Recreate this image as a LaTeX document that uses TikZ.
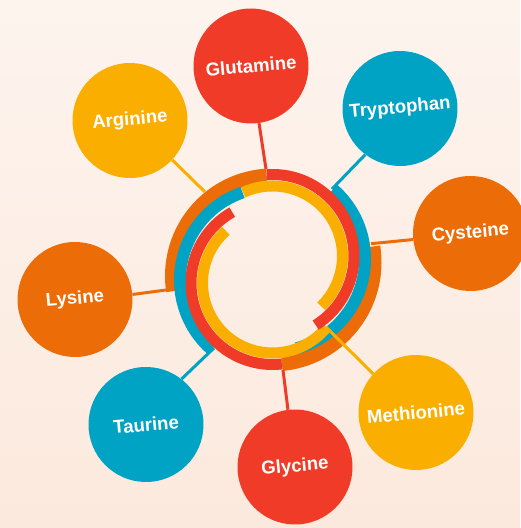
\documentclass[tikz,border=0pt]{standalone}
\usepackage{fontspec}
\setmainfont{Liberation Sans}
\usepackage{xcolor}
\definecolor{aared}{RGB}{239,59,39}
\definecolor{aaorange}{RGB}{236,108,8}
\definecolor{aayellow}{RGB}{250,174,0}
\definecolor{aablue}{RGB}{0,163,196}
\definecolor{bgtop}{RGB}{253,244,238}
\definecolor{bgbot}{RGB}{252,233,221}
\usetikzlibrary{calc}

\begin{document}
\begin{tikzpicture}[x=1pt,y=1pt,
  acid/.style={circle,minimum size=115pt,inner sep=0pt,text=white,
    font=\fontsize{18.6}{22}\selectfont\bfseries,rotate=5},
  link/.style={line width=3pt},
  band/.style={line width=11pt}
]
  % Background
  \shade[top color=bgtop,bottom color=bgbot] (0,0) rectangle (520,528);
  \useasboundingbox (0,0) rectangle (520,528);

  % Ring centres
  \coordinate (ca) at (272.5,272);
  \coordinate (cb) at (272.5,245);
  \coordinate (col) at (272.5,252);
  \coordinate (cor) at (272.5,265.6);
  \coordinate (cbl) at (272.5,248);
  \coordinate (cbr) at (272.5,269);

  % Outer bands
  \draw[band,line width=14pt,aaorange] (cor) ++(9:102) arc[start angle=9,end angle=-84.7,radius=102];
  \draw[band,line width=14pt,aaorange] (col) ++(93.3:100.5) arc[start angle=93.3,end angle=188.7,radius=100.5];
  \draw[band,line width=12pt,aablue] (cbr) ++(49:92.5) arc[start angle=49,end angle=-75,radius=92.5];
  \draw[band,line width=12pt,aablue] (cbl) ++(108.9:92.5) arc[start angle=108.9,end angle=228.7,radius=92.5];

  % Inner bands
  \draw[band,aayellow] (ca) ++(114.8:70) arc[start angle=114.8,end angle=-45.9,radius=70];
  \draw[band,aayellow] (cb) ++(131.8:70) arc[start angle=131.8,end angle=320.6,radius=70];
  \draw[band,aared] (cb) ++(119.6:81.5) arc[start angle=119.6,end angle=276.6,radius=81.5];
  \draw[band,aared] (ca) ++(94:81.5) arc[start angle=94,end angle=-58,radius=81.5];

  % Amino acids
  \node[acid,fill=aared] (glut) at (251,462) {Glutamine};
  \node[acid,fill=aablue] (tryp) at (400,419.5) {Tryptophan};
  \node[acid,fill=aaorange] (cyst) at (470.5,294.5) {Cysteine};
  \node[acid,fill=aayellow] (meth) at (416,115.5) {Methionine};
  \node[acid,fill=aared] (glyc) at (295,61) {Glycine};
  \node[acid,fill=aablue] (taur) at (146,103.5) {Taurine};
  \node[acid,fill=aaorange] (lys) at (75,228.5) {Lysine};
  \node[acid,fill=aayellow] (arg) at (130,407.5) {Arginine};

  % Connector ends on the ring
  \coordinate (glutend) at (266,359);
  \coordinate (trypend) at (332,339);
  \coordinate (cystend) at (371,284.3);
  \coordinate (methend) at (326,201);
  \coordinate (glycend) at (283,158);
  \coordinate (taurend) at (214,180);
  \coordinate (lysend) at (166,238);
  \coordinate (argend) at (205,336);

  \draw[link,aared] (glut.273) -- (glutend);
  \draw[link,aablue] (tryp.228) -- (trypend);
  \draw[link,aaorange] (cyst.181) -- (cystend);
  \draw[link,aayellow] (meth.133) -- (methend);
  \draw[link,aared] (glyc.92) -- (glycend);
  \draw[link,aablue] (taur.47) -- (taurend);
  \draw[link,aaorange] (lys.0) -- (lysend);
  \draw[link,aayellow] (arg.312) -- (argend);
\end{tikzpicture}
\end{document}
